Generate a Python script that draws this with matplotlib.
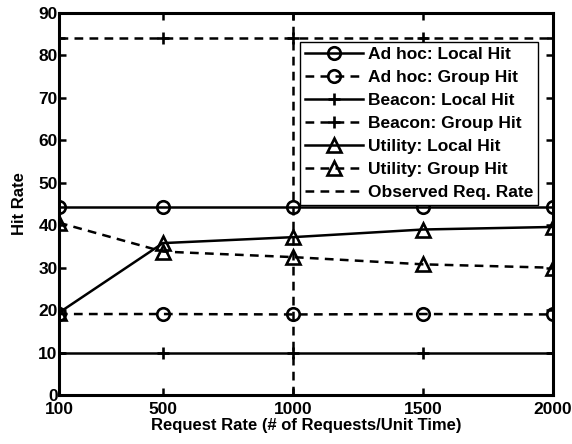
import numpy as np
import matplotlib.pyplot as plt

plt.rcParams['font.family'] = ['Liberation Sans', 'DejaVu Sans']
plt.rcParams['font.weight'] = 'bold'

# Data
rates = [100, 500, 1000, 1500, 2000]
adhoc_local = [44.2, 44.2, 44.2, 44.2, 44.2]
adhoc_group = [19.1, 19.1, 19.0, 19.1, 19.0]
beacon_local = [10, 10, 10, 10, 10]
beacon_group = [84, 84, 84, 84, 84]
utility_local = [19.4, 35.8, 37.2, 39.0, 39.6]
utility_group = [40.6, 33.8, 32.5, 30.8, 30.0]
observed_rate = 1000

dash = (0, (3.5, 2.5))
lw = 1.8
ms = 9
mew = 1.9

fig = plt.figure(figsize=(5.72, 4.44), dpi=100)
ax = fig.add_axes([0.103, 0.110, 0.864, 0.861])

ax.plot(rates, adhoc_local, color='k', lw=lw, marker='o', ms=ms, mfc='none', mew=mew,
        label='Ad hoc: Local Hit')
ax.plot(rates, adhoc_group, color='k', lw=lw, ls=dash, marker='o', ms=ms, mfc='none', mew=mew,
        label='Ad hoc: Group Hit')
ax.plot(rates, beacon_local, color='k', lw=lw, marker='+', ms=ms, mew=mew,
        label='Beacon: Local Hit')
ax.plot(rates, beacon_group, color='k', lw=lw, ls=dash, marker='+', ms=ms, mew=mew,
        label='Beacon: Group Hit')
ax.plot(rates, utility_local, color='k', lw=lw, marker='^', ms=ms + 1, mfc='none', mew=mew,
        label='Utility: Local Hit')
ax.plot(rates, utility_group, color='k', lw=lw, ls=dash, marker='^', ms=ms + 1, mfc='none', mew=mew,
        label='Utility: Group Hit')
ax.axvline(observed_rate, color='k', lw=lw, ls=dash, label='Observed Req. Rate')

ax.set_xlim(100, 2000)
ax.set_ylim(0, 90)
ax.set_xticks(rates)
ax.set_yticks(np.arange(0, 91, 10))
ax.tick_params(direction='in', top=True, right=True, width=1.8, length=5, labelsize=12.5)
ax.tick_params(axis='x', pad=5)
ax.tick_params(axis='y', pad=1)
for s in ax.spines.values():
    s.set_linewidth(2.2)
ax.set_xlabel('Request Rate (# of Requests/Unit Time)', fontsize=12, fontweight='bold', labelpad=1)
ax.set_ylabel('Hit Rate', fontsize=12, fontweight='bold', labelpad=8)

leg = ax.legend(loc='upper right', bbox_to_anchor=(0.97, 0.925), fontsize=12.5, frameon=True,
                fancybox=False, handlelength=3.3, handletextpad=0.3, labelspacing=0.45,
                borderpad=0.3, borderaxespad=0)
leg.get_frame().set_edgecolor('k')
leg.get_frame().set_linewidth(1)
leg.get_frame().set_alpha(1)

fig.savefig('out.png', dpi=100)
